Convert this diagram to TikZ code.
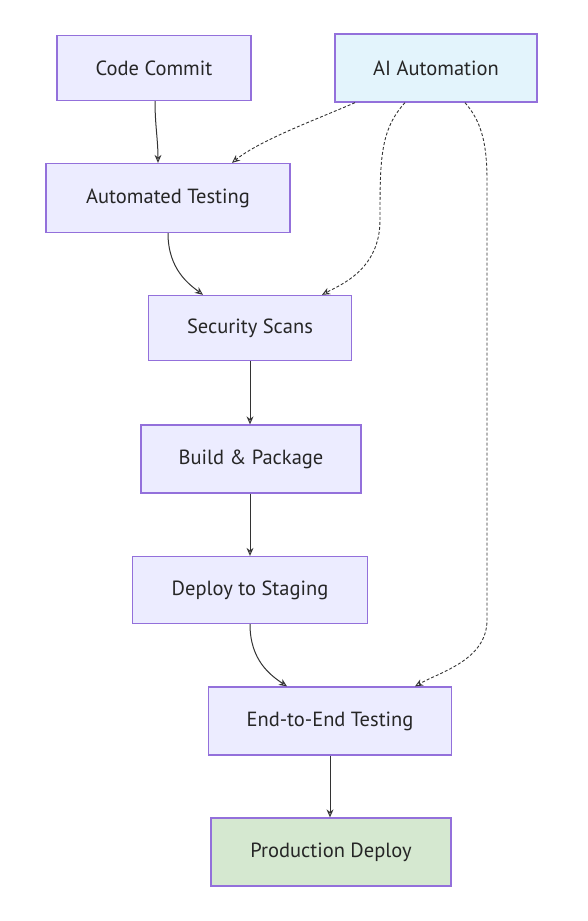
\documentclass[tikz,border=0pt]{standalone}
\usepackage{fontspec}
\setmainfont{PT Sans}
\usetikzlibrary{arrows.meta}
\definecolor{lav}{HTML}{ECECFF}
\definecolor{bord}{HTML}{9370DB}
\definecolor{aiblue}{HTML}{E3F4FC}
\definecolor{prodgreen}{HTML}{D5E8D0}
\definecolor{edge}{HTML}{333333}
\begin{document}
\begin{tikzpicture}[x=1pt,y=-1pt,
  box/.style={draw=bord,line width=1.3pt,fill=lav,inner sep=0pt,
    font=\fontsize{20.5}{24}\selectfont,text=black!85},
  flow/.style={draw=edge,line width=1pt,-{Stealth[length=8pt,width=7pt,open]}},
  aiflow/.style={draw=edge,line width=0.9pt,dash pattern=on 3pt off 2pt,-{Stealth[length=8pt,width=7pt,open]}}]
\useasboundingbox (0,0) rectangle (587,921);
\node[box,minimum width=194pt,minimum height=65pt] (cc) at (154,68) {Code Commit};
\node[box,fill=aiblue,minimum width=202pt,minimum height=68pt] (ai) at (436,68) {AI Automation};
\node[box,minimum width=244pt,minimum height=69pt] (at) at (168,198) {Automated Testing};
\node[box,minimum width=203pt,minimum height=65pt] (ss) at (250,328) {Security Scans};
\node[box,minimum width=220pt,minimum height=68pt] (bp) at (251,459) {Build \& Package};
\node[box,minimum width=235pt,minimum height=67pt] (ds) at (250,590) {Deploy to Staging};
\node[box,minimum width=243pt,minimum height=68pt] (e2e) at (330,721) {End-to-End Testing};
\node[box,fill=prodgreen,minimum width=240pt,minimum height=68pt] (pd) at (331,852) {Production Deploy};

\draw[flow] ([xshift=1pt]cc.south) .. controls (155,125) and (158,140) .. ([xshift=-10pt]at.north);
\draw[aiflow] ([xshift=-81pt]ai.south) .. controls (320,118) and (260,140) .. ([xshift=64pt]at.north);
\draw[flow] (at.south) .. controls (168,270) and (190,285) .. ([xshift=-47pt]ss.north);
\draw[aiflow] ([xshift=-31pt]ai.south) .. controls (380,130) and (380,160) .. (380,220) .. controls (380,270) and (340,285) .. ([xshift=72pt]ss.north);
\draw[flow] (ss.south) -- (bp.north -| ss.south);
\draw[flow] (bp.south -| ss.south) -- (ds.north);
\draw[flow] (ds.south) .. controls (250,660) and (270,675) .. ([xshift=-43pt]e2e.north);
\draw[aiflow] ([xshift=29pt]ai.south) .. controls (480,120) and (487,140) .. (487,180) -- (487,620) .. controls (487,660) and (440,672) .. ([xshift=85pt]e2e.north);
\draw[flow] (e2e.south) -- (pd.north -| e2e.south);
\end{tikzpicture}
\end{document}
